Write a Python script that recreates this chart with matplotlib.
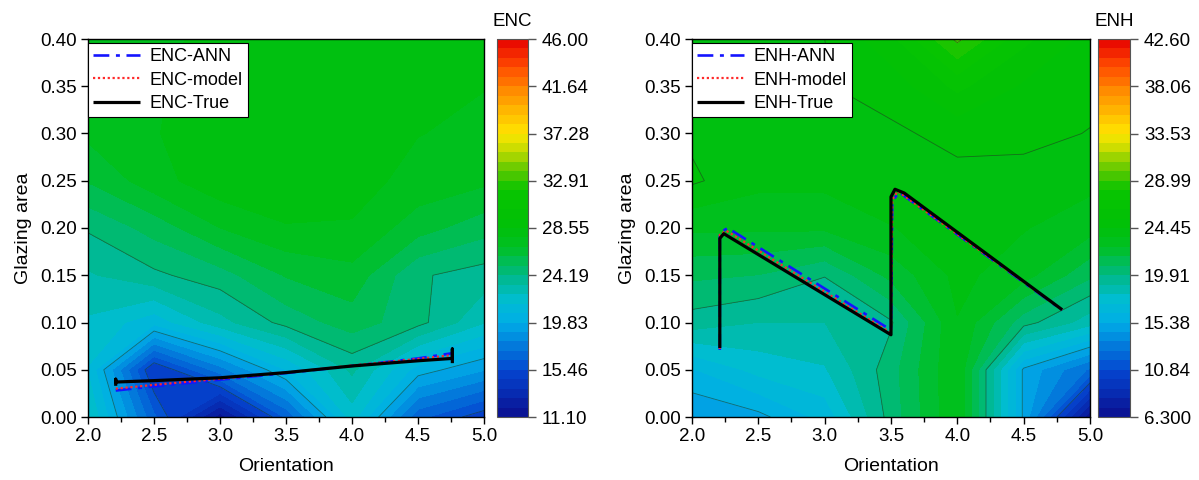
import numpy as np
import matplotlib
matplotlib.use("Agg")
import matplotlib.pyplot as plt
from matplotlib.colors import LinearSegmentedColormap
from matplotlib.ticker import MultipleLocator

plt.rcParams['font.family'] = ['Liberation Sans', 'DejaVu Sans']

# ---- grid of the response surfaces ----
orientation = [2.0, 2.5, 3.0, 3.5, 4.0, 4.5, 5.0]
glazing = [0.0, 0.05, 0.10, 0.15, 0.20, 0.25, 0.30, 0.35, 0.40]

# ENC surface, one row per glazing area value
enc_grid = [
    [22.5, 16.5, 11.5, 16.5, 22.0, 16.6, 14.9],
    [21.5, 14.5, 17.7, 20.7, 23.5, 20.3, 19.0],
    [22.3, 21.0, 23.0, 24.5, 25.5, 24.5, 22.5],
    [23.2, 24.0, 24.7, 26.0, 26.5, 24.3, 23.8],
    [24.3, 25.4, 26.8, 27.6, 27.6, 26.3, 25.4],
    [26.0, 27.3, 28.3, 28.4, 28.0, 27.4, 27.0],
    [27.0, 27.6, 28.4, 28.45, 27.9, 27.7, 27.5],
    [27.1, 27.5, 28.3, 28.4, 27.8, 27.9, 27.7],
    [27.1, 27.3, 28.1, 28.1, 27.7, 27.9, 27.7],
]

# ENH surface
enh_grid = [
    [14.5, 15.1, 16.6, 20.3, 23.5, 15.2, 6.5],
    [16.2, 17.5, 18.0, 20.45, 23.5, 15.2, 12.5],
    [19.5, 19.0, 19.0, 19.8, 23.5, 20.3, 18.5],
    [21.0, 20.8, 19.95, 22.0, 23.8, 23.0, 21.0],
    [22.8, 22.8, 22.8, 23.5, 24.0, 23.6, 23.0],
    [24.6, 23.8, 23.8, 24.1, 24.2, 24.0, 23.8],
    [24.3, 24.3, 24.35, 24.3, 24.7, 24.8, 24.4],
    [24.3, 24.35, 24.4, 24.8, 26.5, 25.2, 24.8],
    [24.3, 24.4, 24.45, 26.0, 29.2, 26.5, 25.0],
]

enc_range = (11.10, 46.00)
enh_range = (6.30, 42.60)
enc_ticklabels = ["11.10", "15.46", "19.83", "24.19", "28.55",
                  "32.91", "37.28", "41.64", "46.00"]
enh_ticklabels = ["6.300", "10.84", "15.38", "19.91", "24.45",
                  "28.99", "33.53", "38.06", "42.60"]

# ---- paths through (orientation, glazing area) ----
enc_ann_x = [2.21, 2.5, 3.0, 3.5, 4.0, 4.5, 4.76]
enc_ann_y = [0.028, 0.0325, 0.0395, 0.0465, 0.054, 0.062, 0.0675]
enc_model_x = [2.21, 2.5, 3.0, 3.5, 4.0, 4.5, 4.76]
enc_model_y = [0.030, 0.034, 0.0405, 0.047, 0.0545, 0.0615, 0.0655]
enc_true_x = [2.21, 2.21, 2.21, 2.5, 3.0, 3.5, 4.0, 4.5, 4.76, 4.76, 4.76]
enc_true_y = [0.033, 0.040, 0.037, 0.0385, 0.0415, 0.047, 0.054, 0.0595,
              0.062, 0.072, 0.057]

enh_ann_x = [2.21, 2.21, 2.27, 3.50, 3.51, 3.56, 4.79]
enh_ann_y = [0.071, 0.195, 0.200, 0.092, 0.228, 0.238, 0.113]
enh_model_x = [2.21, 2.21, 2.26, 3.50, 3.51, 3.55, 4.79]
enh_model_y = [0.072, 0.193, 0.197, 0.089, 0.230, 0.239, 0.1135]
enh_true_x = [2.21, 2.21, 2.24, 3.50, 3.50, 3.53, 3.60, 4.79]
enh_true_y = [0.073, 0.189, 0.194, 0.087, 0.233, 0.241, 0.237, 0.1135]

# ---- rainbow palette ----
rainbow = LinearSegmentedColormap.from_list("rainbow_origin", [
    (0.00, "#0a0f8f"),
    (0.12, "#0545d0"),
    (0.25, "#00aee6"),
    (0.31, "#00bdd0"),
    (0.375, "#00b884"),
    (0.42, "#00be48"),
    (0.45, "#00c024"),
    (0.50, "#00c008"),
    (0.60, "#08c400"),
    (0.65, "#58c800"),
    (0.71, "#c8dc00"),
    (0.75, "#ffe600"),
    (0.85, "#ff9800"),
    (0.93, "#ff4a00"),
    (1.00, "#e60000"),
])

fig = plt.figure(figsize=(11.99, 4.80), dpi=100)

panels = [
    dict(grid=enc_grid, rng=enc_range, labels=enc_ticklabels, name="ENC",
         ax=[0.0734, 0.13125, 0.3303, 0.7875], cax=[0.4145, 0.13125, 0.0259, 0.7875],
         lines=[(enc_ann_x, enc_ann_y), (enc_model_x, enc_model_y), (enc_true_x, enc_true_y)]),
    dict(grid=enh_grid, rng=enh_range, labels=enh_ticklabels, name="ENH",
         ax=[0.5771, 0.13125, 0.3320, 0.7875], cax=[0.9158, 0.13125, 0.0267, 0.7875],
         lines=[(enh_ann_x, enh_ann_y), (enh_model_x, enh_model_y), (enh_true_x, enh_true_y)]),
]

X, Y = np.meshgrid(orientation, glazing)
styles = [
    dict(color="#1414ff", ls=(0, (6, 2.5, 1.5, 2.5)), lw=1.9, suffix="-ANN"),
    dict(color="#ff2a2a", ls=(0, (1, 1.2)), lw=1.6, suffix="-model"),
    dict(color="black", ls="-", lw=2.3, suffix="-True"),
]

for p in panels:
    ax = fig.add_axes(p["ax"])
    vmin, vmax = p["rng"]
    Z = np.array(p["grid"])
    levels = np.linspace(vmin, vmax, 41)
    cf = ax.contourf(X, Y, Z, levels=levels, cmap=rainbow, vmin=vmin, vmax=vmax)
    major = np.linspace(vmin, vmax, 9)
    ax.contour(X, Y, Z, levels=major[1:-1], colors="#203828", linewidths=0.6, alpha=0.6)

    for (lx, ly), st in zip(p["lines"], styles):
        ax.plot(lx, ly, color=st["color"], ls=st["ls"], lw=st["lw"],
                label=p["name"] + st["suffix"], solid_capstyle="butt")

    ax.set_xlim(2.0, 5.0)
    ax.set_ylim(0.0, 0.40)
    ax.xaxis.set_major_locator(MultipleLocator(0.5))
    ax.xaxis.set_minor_locator(MultipleLocator(0.25))
    ax.yaxis.set_major_locator(MultipleLocator(0.05))
    ax.set_xticklabels([f"{v:.1f}" for v in ax.get_xticks()])
    ax.set_yticklabels([f"{v:.2f}" for v in ax.get_yticks()])
    ax.tick_params(axis="both", which="major", direction="out", length=5, width=1,
                   labelsize=13.5, pad=3, top=False, right=False)
    ax.tick_params(axis="x", which="minor", direction="out", length=3.5, width=1)
    for s in ax.spines.values():
        s.set_linewidth(1.0)
    ax.set_xlabel("Orientation", fontsize=14, labelpad=9)
    ax.set_ylabel("Glazing area", fontsize=14, labelpad=6)

    leg = ax.legend(loc="upper left", bbox_to_anchor=(0.0, 0.99), fontsize=13,
                    frameon=True, fancybox=False, framealpha=1, edgecolor="black",
                    handlelength=2.6, handletextpad=0.5, labelspacing=0.35,
                    borderpad=0.3, borderaxespad=0.0)
    leg.get_frame().set_linewidth(0.8)

    cax = fig.add_axes(p["cax"])
    cb = fig.colorbar(cf, cax=cax, ticks=major)
    cb.set_ticklabels(p["labels"])
    cb.outline.set_linewidth(0.8)
    cb.outline.set_edgecolor("#555555")
    cax.tick_params(direction="out", length=6, width=1, color="#555555",
                    labelsize=13.5, pad=4)
    cax.set_title(p["name"], fontsize=13.5, pad=9)

fig.savefig("out.png", dpi=100)
